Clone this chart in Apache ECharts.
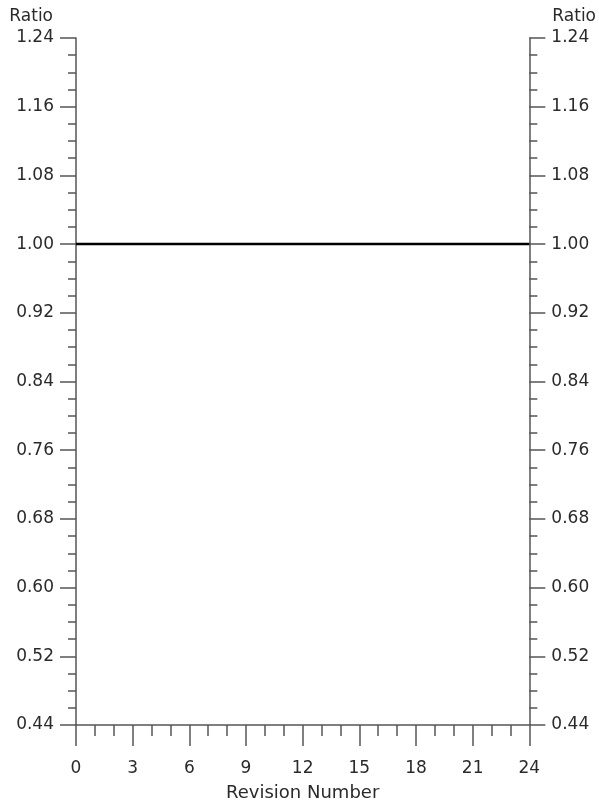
<!DOCTYPE html>
<html>
<head>
<meta charset="utf-8">
<script src="https://cdn.jsdelivr.net/npm/echarts@6/dist/echarts.min.js"></script>
<style>
html,body{margin:0;padding:0;background:#fff;}
#c{width:599px;height:810px;}
</style>
</head>
<body>
<div id="c"></div>
<script>
const revisions = [0, 24];
const ratioValues = [1.00, 1.00];
const yTicks = [0.44, 0.52, 0.60, 0.68, 0.76, 0.84, 0.92, 1.00, 1.08, 1.16, 1.24];
const xTicks = [0, 3, 6, 9, 12, 15, 18, 21, 24];
const yAxisTitle = 'Ratio';
const xAxisTitle = 'Revision Number';

const axisColor = '#555';
const textColor = '#2a2a2a';
const font = "'DejaVu Sans ExtraLight', 'DejaVu Sans', sans-serif";

function yAxisCfg(pos) {
  const left = pos === 'left';
  return {
    type: 'value',
    position: pos,
    min: yTicks[0],
    max: yTicks[yTicks.length - 1],
    interval: 0.08,
    name: yAxisTitle,
    nameLocation: 'end',
    nameGap: 21,
    nameTextStyle: {
      color: textColor, fontFamily: font, fontSize: 17,
      align: left ? 'right' : 'left', verticalAlign: 'middle',
      padding: left ? [0, 23, 0, 0] : [0, 0, 0, 23]
    },
    axisLine: {show: true, lineStyle: {color: axisColor, width: 1.5}},
    axisTick: {show: true, inside: false, length: 16, lineStyle: {color: axisColor, width: 1.5}},
    minorTick: {show: true, splitNumber: 4, length: 8, lineStyle: {color: axisColor, width: 1.5}},
    axisLabel: {
      color: textColor, fontFamily: font, fontSize: 17, margin: 22,
      formatter: v => v.toFixed(2)
    },
    splitLine: {show: false},
    minorSplitLine: {show: false}
  };
}

const chart = echarts.init(document.getElementById('c'), null, {renderer: 'canvas'});
chart.setOption({
  backgroundColor: '#fff',
  animation: false,
  grid: {left: 76, right: 69, top: 38, bottom: 85, containLabel: false},
  xAxis: {
    type: 'value',
    min: xTicks[0],
    max: xTicks[xTicks.length - 1],
    interval: 3,
    name: xAxisTitle,
    nameLocation: 'middle',
    nameGap: 59,
    nameTextStyle: {color: textColor, fontFamily: font, fontSize: 18},
    axisLine: {show: true, onZero: false, lineStyle: {color: axisColor, width: 1.5}},
    axisTick: {show: true, inside: false, length: 21, lineStyle: {color: axisColor, width: 1.5}},
    minorTick: {show: true, splitNumber: 3, length: 11, lineStyle: {color: axisColor, width: 1.5}},
    axisLabel: {color: textColor, fontFamily: font, fontSize: 17, margin: 35},
    splitLine: {show: false},
    minorSplitLine: {show: false}
  },
  yAxis: [yAxisCfg('left'), yAxisCfg('right')],
  series: [{
    type: 'line',
    data: revisions.map((r, i) => [r, ratioValues[i]]),
    yAxisIndex: 0,
    symbol: 'none',
    lineStyle: {color: '#000', width: 2.5}
  }]
});
</script>
</body>
</html>
